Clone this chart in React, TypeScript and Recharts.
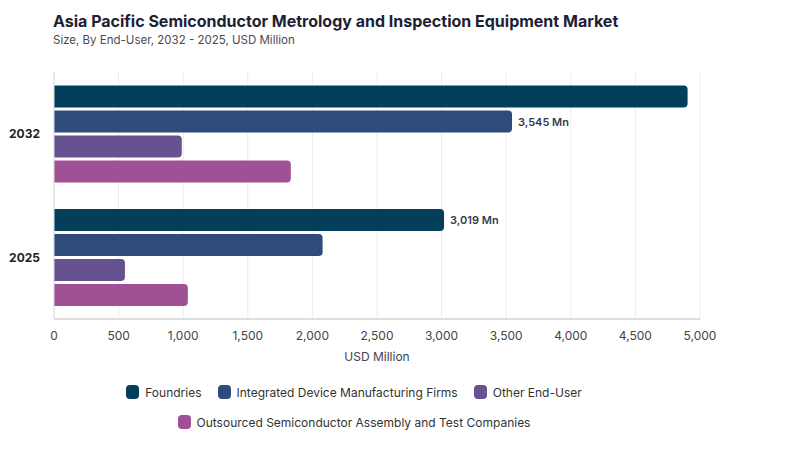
import { BarChart, Bar, XAxis, YAxis, CartesianGrid, LabelList } from "recharts";

const years = ["2032", "2025"];
const foundries = [4904, 3019];
const idm = [3545, 2079];
const otherEndUser = [989, 549];
const osat = [1833, 1036];
const xTicks = [0, 500, 1000, 1500, 2000, 2500, 3000, 3500, 4000, 4500, 5000];

const series = [
  { key: "foundries", name: "Foundries", color: "#033f5b", labelAt: ["2025"] },
  { key: "idm", name: "Integrated Device Manufacturing Firms", color: "#2f4b7c", labelAt: ["2032"] },
  { key: "other", name: "Other End-User", color: "#665191", labelAt: [] as string[] },
  { key: "osat", name: "Outsourced Semiconductor Assembly and Test Companies", color: "#a05195", labelAt: [] as string[] },
];

const data = years.map((year, i) => ({
  year,
  foundries: foundries[i],
  idm: idm[i],
  other: otherEndUser[i],
  osat: osat[i],
}));

const font = "Inter, 'Noto Sans', sans-serif";

function valueLabel(labelAt: string[]) {
  return (props: any) => {
    const { x, y, width, height, value, index } = props;
    if (!labelAt.includes(years[index])) return null;
    return (
      <text
        x={x + width + 6}
        y={y + height / 2}
        dominantBaseline="central"
        fontSize={11}
        fontWeight={600}
        fill="#3a3a48"
        fontFamily={font}
      >
        {value.toLocaleString("en-US")} Mn
      </text>
    );
  };
}

export default function App() {
  return (
    <div style={{ position: "relative", width: 800, height: 450, background: "#fff", fontFamily: font }}>
      <style>{`body{margin:0}`}</style>
      <div style={{ position: "absolute", left: 53, top: 11, fontSize: 16, fontWeight: 700, color: "#1e1e36" }}>
        Asia Pacific Semiconductor Metrology and Inspection Equipment Market
      </div>
      <div style={{ position: "absolute", left: 53, top: 33, fontSize: 11.5, color: "#4a4a55" }}>
        Size, By End-User, 2032 - 2025, USD Million
      </div>
      <BarChart
        width={800}
        height={450}
        data={data}
        layout="vertical"
        margin={{ top: 72, right: 100, bottom: 81, left: 0 }}
        barCategoryGap="11%"
        barGap={3}
      >
        <CartesianGrid horizontal={false} stroke="#ececec" />
        <XAxis
          type="number"
          domain={[0, 5000]}
          ticks={xTicks}
          tickFormatter={(v) => v.toLocaleString("en-US")}
          tick={{ fill: "#444", fontSize: 12, fontFamily: font }}
          tickLine={false}
          axisLine={{ stroke: "#dedede", strokeWidth: 2 }}
          tickMargin={6}
          height={50}
          label={{ value: "USD Million", position: "insideBottom", offset: 8, fill: "#444", fontSize: 12, fontFamily: font }}
        />
        <YAxis
          type="category"
          dataKey="year"
          width={54}
          tick={{ fill: "#222", fontSize: 12, fontWeight: 700, fontFamily: font }}
          tickLine={false}
          axisLine={{ stroke: "#dedede" }}
          tickMargin={8}
        />
        {series.map((s) => (
          <Bar
            key={s.key}
            dataKey={s.key}
            name={s.name}
            fill={s.color}
            radius={[0, 4, 4, 0]}
            isAnimationActive={false}
          >
            <LabelList dataKey={s.key} content={valueLabel(s.labelAt)} />
          </Bar>
        ))}
      </BarChart>
      <div
        style={{
          position: "absolute",
          left: 94,
          top: 383,
          width: 520,
          display: "flex",
          flexWrap: "wrap",
          justifyContent: "center",
          columnGap: 16,
          rowGap: 12,
          fontSize: 12,
          color: "#333",
        }}
      >
        {series.map((s) => (
          <div key={s.key} style={{ display: "flex", alignItems: "center", gap: 6, height: 18 }}>
            <span style={{ width: 13, height: 14, borderRadius: 4, background: s.color, display: "inline-block" }} />
            {s.name}
          </div>
        ))}
      </div>
    </div>
  );
}
